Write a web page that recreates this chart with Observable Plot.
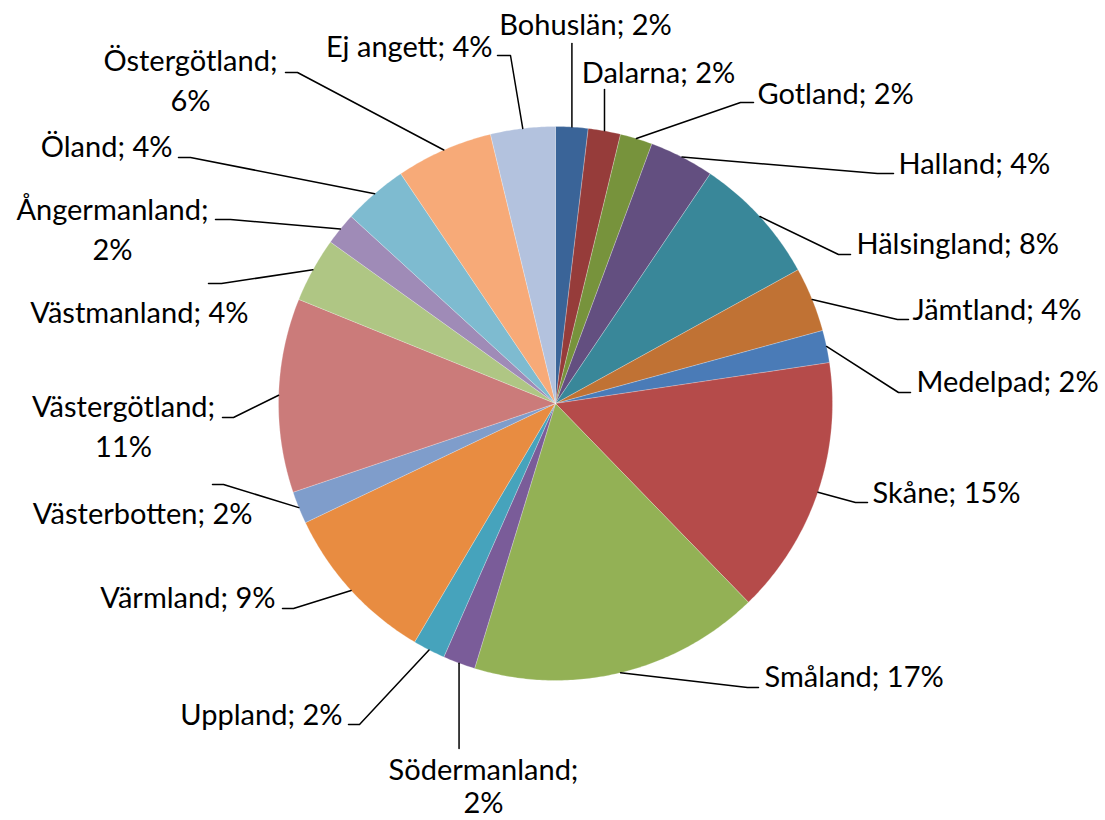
<!DOCTYPE html>
<html>
<head>
<meta charset="utf-8">
<script src="https://cdn.jsdelivr.net/npm/d3@7"></script>
<script src="https://cdn.jsdelivr.net/npm/@observablehq/plot@0.6"></script>
<style>
  html, body { margin: 0; padding: 0; background: #ffffff; }
  #chart svg { display: block; }
</style>
</head>
<body>
<div id="chart"></div>
<script>
// ---- Data (clockwise from 12 o'clock) ----
const categories = [
  "Bohuslän", "Dalarna", "Gotland", "Halland", "Hälsingland", "Jämtland",
  "Medelpad", "Skåne", "Småland", "Södermanland", "Uppland", "Värmland",
  "Västerbotten", "Västergötland", "Västmanland", "Ångermanland", "Öland",
  "Östergötland", "Ej angett"
];
const counts = [1, 1, 1, 2, 4, 2, 1, 8, 9, 1, 1, 5, 1, 6, 2, 1, 2, 3, 2];

// ---- Styling ----
const sliceColors = [
  "#3A6498", "#963C3A", "#77933C", "#634F80", "#398799", "#C07234",
  "#4A7BB7", "#B54B4A", "#93B155", "#7A5C99", "#46A3BC", "#E88C41",
  "#7F9DCB", "#CB7B7A", "#AFC684", "#9F8BB7", "#7EBBD0", "#F7AA78",
  "#B3C2DE"
];

// ---- Layout: pie geometry and label placement (pixels) ----
const W = 1105, H = 820;
const cx = 555, cy = 403, R = 277;
const labelLayout = [
  {anchor: "middle", tx: 585, ty: 22, vEnd: 43},
  {anchor: "middle", tx: 658, ty: 70, vEnd: 89},
  {anchor: "start", tx: 757, ty: 91, elbow: [740, 102], tail: [753, 102]},
  {anchor: "start", tx: 898, ty: 161, elbow: [877, 173], tail: [893, 173]},
  {anchor: "start", tx: 856, ty: 241, elbow: [838, 254], tail: [850, 254]},
  {anchor: "start", tx: 912, ty: 307, elbow: [897, 319], tail: [908, 319]},
  {anchor: "start", tx: 916, ty: 379, elbow: [898, 392], tail: [910, 392]},
  {anchor: "start", tx: 872, ty: 490, elbow: [855, 502], tail: [867, 502]},
  {anchor: "start", tx: 764, ty: 674, elbow: [747, 687], tail: [758, 687]},
  {anchor: "middle", tx: 483, ty: 785, vEnd: 748, wrap: true, tight: true},
  {anchor: "end", tx: 342, ty: 712, elbow: [359, 724], tail: [348, 724]},
  {anchor: "end", tx: 275, ty: 595, elbow: [293, 608], tail: [282, 608]},
  {anchor: "end", tx: 252, ty: 511, elbow: [223, 484], tail: [212, 484]},
  {anchor: "middle", tx: 123, ty: 424, elbow: [233, 417], tail: [222, 417], wrap: true},
  {anchor: "end", tx: 248, ty: 310, elbow: [221, 283], tail: [208, 283]},
  {anchor: "middle", tx: 112, ty: 227, elbow: [230, 219], tail: [215, 219], wrap: true},
  {anchor: "end", tx: 172, ty: 144, elbow: [190, 157], tail: [178, 157]},
  {anchor: "middle", tx: 190, ty: 78, elbow: [297, 72], tail: [285, 72], wrap: true},
  {anchor: "end", tx: 492, ty: 44, elbow: [510, 55], tail: [497, 55]}
];

// ---- Build slice polygons from the data ----
const total = d3.sum(counts);
const arcs = d3.pie().sort(null).value(d => d)(counts);
const px = a => cx + R * Math.sin(a);
const py = a => cy - R * Math.cos(a);

const sliceRows = [];
arcs.forEach((a, i) => {
  const cat = categories[i];
  sliceRows.push({cat, x: cx, y: cy});
  const steps = Math.max(4, Math.ceil((a.endAngle - a.startAngle) / 0.01));
  for (let s = 0; s <= steps; s++) {
    const t = a.startAngle + (a.endAngle - a.startAngle) * s / steps;
    sliceRows.push({cat, x: px(t), y: py(t)});
  }
  sliceRows.push({cat, x: cx, y: cy});
});

// ---- Leader lines and labels ----
const leaderRows = [];
const labelRows = [];
arcs.forEach((a, i) => {
  const cat = categories[i];
  const L = labelLayout[i];
  const mid = (a.startAngle + a.endAngle) / 2;
  const ex = px(mid), ey = py(mid);
  leaderRows.push({cat, x: ex, y: ey});
  if (L.vEnd !== undefined) {
    leaderRows.push({cat, x: ex, y: L.vEnd});
  } else {
    leaderRows.push({cat, x: L.elbow[0], y: L.elbow[1]});
    leaderRows.push({cat, x: L.tail[0], y: L.tail[1]});
  }
  const pct = Math.round(counts[i] / total * 100) + "%";
  const text = L.wrap ? `${cat};\n${pct}` : `${cat}; ${pct}`;
  labelRows.push({cat, x: L.tx, y: L.ty, text, anchor: L.anchor, tight: !!L.tight});
});

const textOpts = {
  x: "x", y: "y", text: "text",
  fontFamily: "Lato", fontSize: 29, fill: "#000000",
  lineAnchor: "middle", lineHeight: 1.36
};

const chart = Plot.plot({
  width: W,
  height: H,
  margin: 0,
  style: {background: "#ffffff", fontFamily: "Lato"},
  x: {domain: [0, W], range: [0, W], axis: null},
  y: {domain: [0, H], range: [0, H], axis: null},
  color: {domain: categories, range: sliceColors},
  marks: [
    Plot.line(sliceRows, {x: "x", y: "y", z: "cat", fill: "cat", stroke: "#ffffff", strokeWidth: 0.4, strokeOpacity: 0.6, curve: "linear"}),
    Plot.line(leaderRows, {x: "x", y: "y", z: "cat", stroke: "#000000", strokeWidth: 1.5, curve: "linear"}),
    Plot.text(labelRows.filter(d => d.anchor === "start"), {...textOpts, textAnchor: "start"}),
    Plot.text(labelRows.filter(d => d.anchor === "end"), {...textOpts, textAnchor: "end"}),
    Plot.text(labelRows.filter(d => d.anchor === "middle" && !d.tight), {...textOpts, textAnchor: "middle"}),
    Plot.text(labelRows.filter(d => d.anchor === "middle" && d.tight), {...textOpts, textAnchor: "middle", lineHeight: 1.15})
  ]
});
document.getElementById("chart").appendChild(chart);
</script>
</body>
</html>
